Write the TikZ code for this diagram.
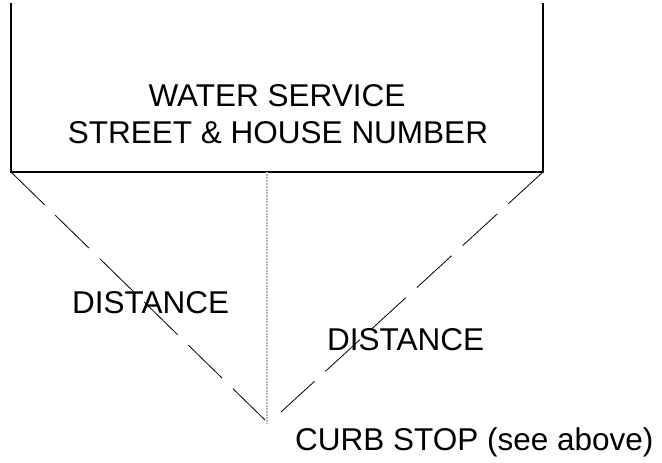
\documentclass[tikz,border=0pt]{standalone}
\usepackage{fontspec}
\setmainfont{Liberation Sans}
\begin{document}
\begin{tikzpicture}[x=1pt,y=-1pt,
  lbl/.style={font=\fontsize{31.5}{37}\selectfont, inner sep=0pt},
  boxline/.style={line width=2.2pt, line cap=rect},
  distline/.style={line width=0.8pt, dash pattern=on 47pt off 15pt},
  centreline/.style={line width=1.8pt, draw=gray!55, dash pattern=on 1pt off 0.5pt}]
\useasboundingbox (0,0) rectangle (662,463);
% box corners
\coordinate (tl) at (11,4);
\coordinate (bl) at (11,172);
\coordinate (br) at (543,172);
\coordinate (tr) at (543,4);
\coordinate (mid) at (267,172);
\coordinate (cs) at (267,423);
\coordinate (lend) at (265,420);
\coordinate (rend) at (281,412);
\draw[boxline] (tl) -- (bl) -- (br) -- (tr);
\node[lbl, anchor=base] (t1) at (277,106) {WATER SERVICE};
\node[lbl, anchor=base] (t2) at (278,143) {STREET \& HOUSE NUMBER};
\draw[centreline] (mid) -- (cs);
\draw[distline] (bl) -- (lend);
\draw[distline] (br) -- (rend);
\node[lbl, anchor=base west] (d1) at (72,313) {DISTANCE};
\node[lbl, anchor=base west] (d2) at (327,350) {DISTANCE};
\node[lbl, anchor=base west] (curb) at (295,450) {CURB STOP (see above)};
\end{tikzpicture}
\end{document}
